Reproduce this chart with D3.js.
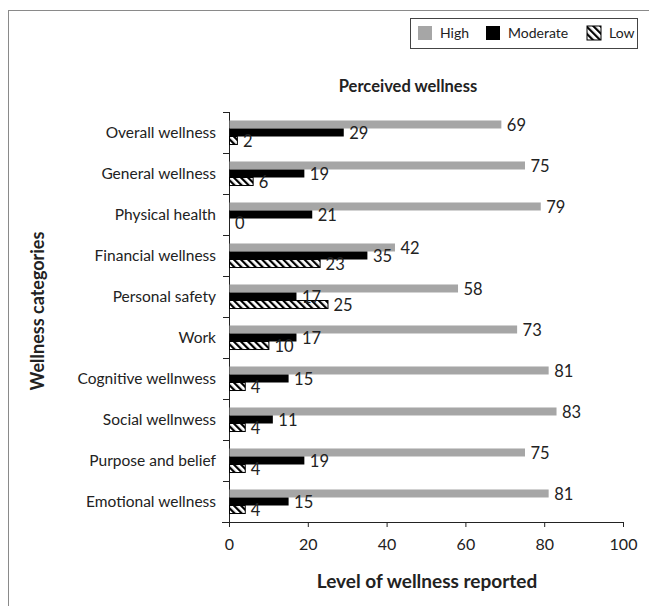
<!DOCTYPE html>
<html>
<head>
<meta charset="utf-8">
<script src="https://cdn.jsdelivr.net/npm/d3@7"></script>
<style>
 body { margin: 0; background: #fff; }
 text { font-family: Lato, "Open Sans", sans-serif; fill: #222; }
</style>
</head>
<body>
<script>
// data
var categories = ['Overall wellness', 'General wellness', 'Physical health', 'Financial wellness',
  'Personal safety', 'Work', 'Cognitive wellnwess', 'Social wellnwess', 'Purpose and belief', 'Emotional wellness']
var high = [69, 75, 79, 42, 58, 73, 81, 83, 75, 81]
var moderate = [29, 19, 21, 35, 17, 17, 15, 11, 19, 15]
var low = [2, 6, 0, 23, 25, 10, 4, 4, 4, 4]
var seriesNames = ['High', 'Moderate', 'Low']
var xTicks = [0, 20, 40, 60, 80, 100]

var rows = categories.map(function(c, i) {
  return { cat: c, values: [
    { key: 'High', v: high[i] },
    { key: 'Moderate', v: moderate[i] },
    { key: 'Low', v: low[i] } ] }
})

var W = 649, H = 606
var margin = { top: 112, right: 26, bottom: 84, left: 229 },
  width = W - margin.left - margin.right,
  height = H - margin.top - margin.bottom

var svg = d3.select('body').append('svg').attr('width', W).attr('height', H)

var defs = svg.append('defs')
var pat = defs.append('pattern').attr('id', 'hatch').attr('patternUnits', 'userSpaceOnUse')
  .attr('width', 5).attr('height', 5).attr('patternTransform', 'rotate(-45)')
pat.append('rect').attr('width', 5).attr('height', 5).attr('fill', '#fff')
pat.append('rect').attr('x', 0).attr('width', 2.2).attr('height', 5).attr('fill', '#000')

// outer frame (cut off by the picture edges)
svg.append('rect').attr('x', 8.5).attr('y', 10.5).attr('width', 800).attr('height', 800)
  .attr('fill', 'none').attr('stroke', '#8a8a8a')

var fills = { High: '#a6a6a6', Moderate: '#000', Low: 'url(#hatch)' }

var g = svg.append('g').attr('transform', 'translate(' + margin.left + ',' + margin.top + ')')

var x = d3.scaleLinear().domain([0, 100]).range([0, width])
var y = d3.scaleBand().domain(categories).range([0, height]).paddingInner(0).paddingOuter(0)
var y1 = d3.scaleBand().domain(seriesNames).range([0, y.bandwidth()]).paddingInner(0).paddingOuter(1.06)

// x axis
var xa = g.append('g').attr('transform', 'translate(0,' + height + ')')
  .call(d3.axisBottom(x).tickValues(xTicks).tickSize(5).tickSizeOuter(0).tickPadding(12))
xa.select('.domain').attr('d', 'M-7,0.5H' + width).attr('stroke', '#222')
xa.selectAll('.tick line').attr('stroke', '#222')
xa.selectAll('.tick text').style('font-size', '16px').attr('fill', '#222')

// y axis with ticks on band boundaries
var ya = g.append('g')
ya.append('line').attr('x1', 0.5).attr('x2', 0.5).attr('y1', 0).attr('y2', height).attr('stroke', '#222')
ya.selectAll('.bt').data(categories).enter().append('line')
  .attr('x1', -6).attr('x2', 0).attr('y1', function(d) { return y(d) + 0.5 }).attr('y2', function(d) { return y(d) + 0.5 })
  .attr('stroke', '#222')
ya.selectAll('.lab').data(categories).enter().append('text')
  .attr('x', -13).attr('y', function(d) { return y(d) + y.bandwidth() / 2 })
  .attr('dy', '0.35em').attr('text-anchor', 'end').style('font-size', '15.5px')
  .text(function(d) { return d })

// bars
var cat = g.selectAll('.cat').data(rows).enter().append('g')
  .attr('transform', function(d) { return 'translate(0,' + y(d.cat) + ')' })

cat.selectAll('rect').data(function(d) { return d.values }).enter().append('rect')
  .attr('x', 0.5).attr('y', function(d) { return y1(d.key) })
  .attr('width', function(d) { return x(d.v) }).attr('height', y1.bandwidth())
  .attr('fill', function(d) { return fills[d.key] })
  .attr('stroke', function(d) { return d.key == 'Low' && d.v > 0 ? '#000' : 'none' })
  .attr('stroke-width', 1)

cat.selectAll('text').data(function(d) { return d.values }).enter().append('text')
  .attr('x', function(d) { return x(d.v) + 6 })
  .attr('y', function(d) { return y1(d.key) + y1.bandwidth() / 2 + 1 })
  .attr('dy', '0.35em').style('font-size', '16.5px').attr('fill', '#222')
  .text(function(d) { return d.v })

// titles
svg.append('text').attr('x', 408).attr('y', 92).attr('text-anchor', 'middle')
  .style('font-size', '16.5px').style('font-weight', 'bold').text('Perceived wellness')
svg.append('text').attr('x', 427).attr('y', 588).attr('text-anchor', 'middle')
  .style('font-size', '19px').style('font-weight', 'bold').text('Level of wellness reported')
svg.append('text').attr('transform', 'translate(44,311) rotate(-90)').attr('text-anchor', 'middle')
  .style('font-size', '18px').style('font-weight', 'bold').text('Wellness categories')

// legend
var lg = svg.append('g')
lg.append('rect').attr('x', 410.5).attr('y', 18.5).attr('width', 227).attr('height', 30)
  .attr('fill', '#fff').attr('stroke', '#444')
var legendX = [418, 486, 587]
seriesNames.forEach(function(s, i) {
  lg.append('rect').attr('x', legendX[i]).attr('y', 26).attr('width', 14).attr('height', 14)
    .attr('fill', fills[s]).attr('stroke', s == 'Low' ? '#000' : 'none')
  lg.append('text').attr('x', legendX[i] + 22).attr('y', 33).attr('dy', '0.35em')
    .style('font-size', '14px').text(s)
})
</script>
</body>
</html>
